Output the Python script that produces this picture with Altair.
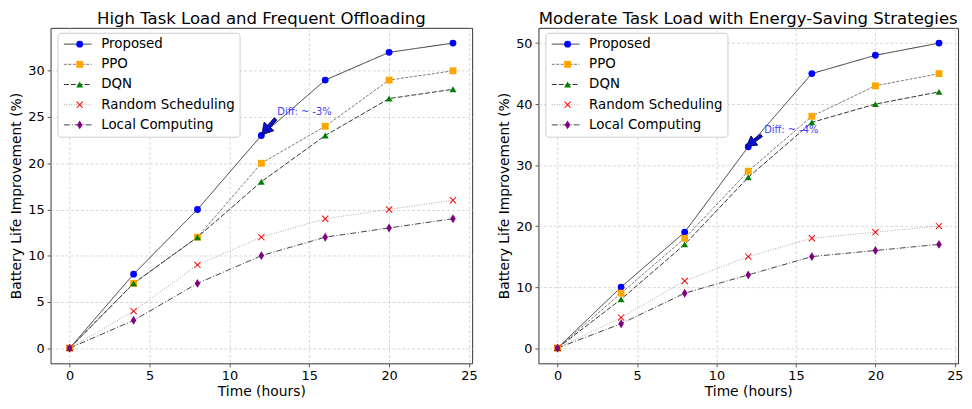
import altair as alt
import pandas as pd

# ---------------- data ----------------
hours = [0, 4, 8, 12, 16, 20, 24]
series = ["Proposed", "PPO", "DQN", "Random Scheduling", "Local Computing"]

high_proposed = [0, 8, 15, 23, 29, 32, 33]
high_ppo = [0, 7, 12, 20, 24, 29, 30]
high_dqn = [0, 7, 12, 18, 23, 27, 28]
high_random = [0, 4, 9, 12, 14, 15, 16]
high_local = [0, 3, 7, 10, 12, 13, 14]

mod_proposed = [0, 10, 19, 33, 45, 48, 50]
mod_ppo = [0, 9, 18, 29, 38, 43, 45]
mod_dqn = [0, 8, 17, 28, 37, 40, 42]
mod_random = [0, 5, 11, 15, 18, 19, 20]
mod_local = [0, 4, 9, 12, 15, 16, 17]

titles = ["High Task Load and Frequent Offloading",
          "Moderate Task Load with Energy-Saving Strategies"]

# annotation: text position, arrow centre, arrow angle, arrow size
ann_text = ["Diff: ~ -3%", "Diff: ~ -4%"]
ann_text_x = [13, 13]
ann_text_y = [25, 35]
arrow_x = [12.46, 12.36]
arrow_y = [23.94, 33.98]
arrow_angle = [221, 234]
arrow_size = [450, 346]

x_ticks = [0, 5, 10, 15, 20, 25]
y_ticks_high = [0, 5, 10, 15, 20, 25, 30]
y_ticks_mod = [0, 10, 20, 30, 40, 50]

# ---------------- styles ----------------
FONT = "DejaVu Sans"
marker_colors = ["#0000ff", "#ffa500", "#008000", "#ff0000", "#800080"]
line_colors = ["#333333", "#777777", "#333333", "#aaaaaa", "#444444"]
line_dash = [[1, 0], [3, 1.5], [5, 2], [1, 1.5], [6, 2, 1, 2]]
X_PATH = ("M-1,-0.8 L-0.8,-1 L0,-0.2 L0.8,-1 L1,-0.8 L0.2,0 L1,0.8 L0.8,1 "
          "L0,0.2 L-0.8,1 L-1,0.8 L-0.2,0 Z")
D_PATH = "M0,-1.3 L0.8,0 L0,1.3 L-0.8,0 Z"
shapes = ["circle", "square", "triangle-up", X_PATH, D_PATH]
ARROW_PATH = ("M0,-1 L0.62,0.05 L0.17,0.05 L0.17,1 L-0.17,1 L-0.17,0.05 "
              "L-0.62,0.05 Z")
LEG_LINE_PATH = "M-1.07,0 L4.93,0"


def long_df(vals):
    rows = []
    for s, v in zip(series, vals):
        for h, y in zip(hours, v):
            rows.append({"hours": h, "value": y, "series": s})
    return pd.DataFrame(rows)


def make_panel(title, vals, ydom, yticks, i, width):
    df = long_df(vals)
    xsc = alt.Scale(domain=[-1.2, 25.2], nice=False, zero=False)
    ysc = alt.Scale(domain=ydom, nice=False, zero=False)
    xax = alt.Axis(values=x_ticks, title="Time (hours)", format="d")
    yax = alt.Axis(values=yticks, title="Battery Life Improvement (%)", format="d")

    leg_common = dict(orient="none", legendY=5, title=None, labelFontSize=13.5,
                      rowPadding=5.4, padding=4.7, labelLimit=300, labelFont=FONT)
    line_leg = alt.Legend(legendX=7, symbolType=LEG_LINE_PATH, symbolSize=87,
                          symbolStrokeWidth=1, labelOffset=26,
                          strokeColor="#cccccc", fillColor="white",
                          cornerRadius=3, labelColor="#000000", **leg_common)
    pt_leg = alt.Legend(legendX=18, symbolSize=48, labelOffset=21,
                        labelExpr="''", symbolStrokeWidth=0, **leg_common)

    lines = alt.Chart(df).mark_line(strokeWidth=1).encode(
        x=alt.X("hours:Q", scale=xsc, axis=xax),
        y=alt.Y("value:Q", scale=ysc, axis=yax),
        color=alt.Color("series:N", scale=alt.Scale(domain=series, range=line_colors),
                        legend=line_leg),
        strokeDash=alt.StrokeDash("series:N",
                                  scale=alt.Scale(domain=series, range=line_dash),
                                  legend=line_leg),
        detail="series:N",
    )
    points = alt.Chart(df).mark_point(filled=True, size=48, opacity=1).encode(
        x="hours:Q",
        y="value:Q",
        color=alt.Color("series:N", scale=alt.Scale(domain=series, range=marker_colors),
                        legend=pt_leg),
        shape=alt.Shape("series:N", scale=alt.Scale(domain=series, range=shapes),
                        legend=pt_leg),
    )
    adf = pd.DataFrame({"tx": [ann_text_x[i]], "ty": [ann_text_y[i]],
                        "t": [ann_text[i]], "ax": [arrow_x[i]], "ay": [arrow_y[i]],
                        "ang": [arrow_angle[i]], "sz": [arrow_size[i]]})
    text = alt.Chart(adf).mark_text(align="left", baseline="bottom", fontSize=10,
                                    font=FONT, color="#4040ff").encode(
        x="tx:Q", y="ty:Q", text="t:N")
    arrow = alt.Chart(adf).mark_point(shape=ARROW_PATH, filled=True, fill="#0a10d0",
                                      stroke="#00004a", strokeWidth=0.8,
                                      opacity=1).encode(
        x="ax:Q", y="ay:Q",
        angle=alt.Angle("ang:Q", scale=None),
        size=alt.Size("sz:Q", scale=None),
    )
    return alt.layer(lines, points, arrow, text).resolve_scale(
        color="independent", strokeDash="independent", shape="independent"
    ).resolve_legend(
        color="independent", strokeDash="independent", shape="independent"
    ).properties(
        width=width, height=339,
        title=alt.TitleParams(title, fontSize=16.7, font=FONT, fontWeight="normal",
                              color="#000000", offset=0.5, anchor="middle"),
    )


left = make_panel(titles[0],
                  [high_proposed, high_ppo, high_dqn, high_random, high_local],
                  [-1.65, 34.65], y_ticks_high, 0, 426)
right = make_panel(titles[1],
                   [mod_proposed, mod_ppo, mod_dqn, mod_random, mod_local],
                   [-2.5, 52.5], y_ticks_mod, 1, 424)

chart = alt.hconcat(left, right, spacing=19).resolve_scale(
    color="independent", strokeDash="independent", shape="independent"
).resolve_legend(
    color="independent", strokeDash="independent", shape="independent"
).properties(
    padding={"left": 1, "top": 0, "right": 0, "bottom": 0}
).configure_view(
    stroke="#333333", strokeWidth=1
).configure_axis(
    labelFont=FONT, titleFont=FONT, labelFontSize=13, titleFontSize=14,
    titleFontWeight="normal", labelColor="#000000", titleColor="#000000",
    domain=False, tickSize=3.5, tickColor="#333333", tickWidth=0.8,
    labelPadding=3,
    grid=True, gridColor="#cccccc", gridDash=[3, 2], gridWidth=0.8,
).configure_axisX(
    titlePadding=2
).configure_axisY(
    titlePadding=4
)

chart.save("out.html", embed_options={"renderer": "svg", "actions": False})
